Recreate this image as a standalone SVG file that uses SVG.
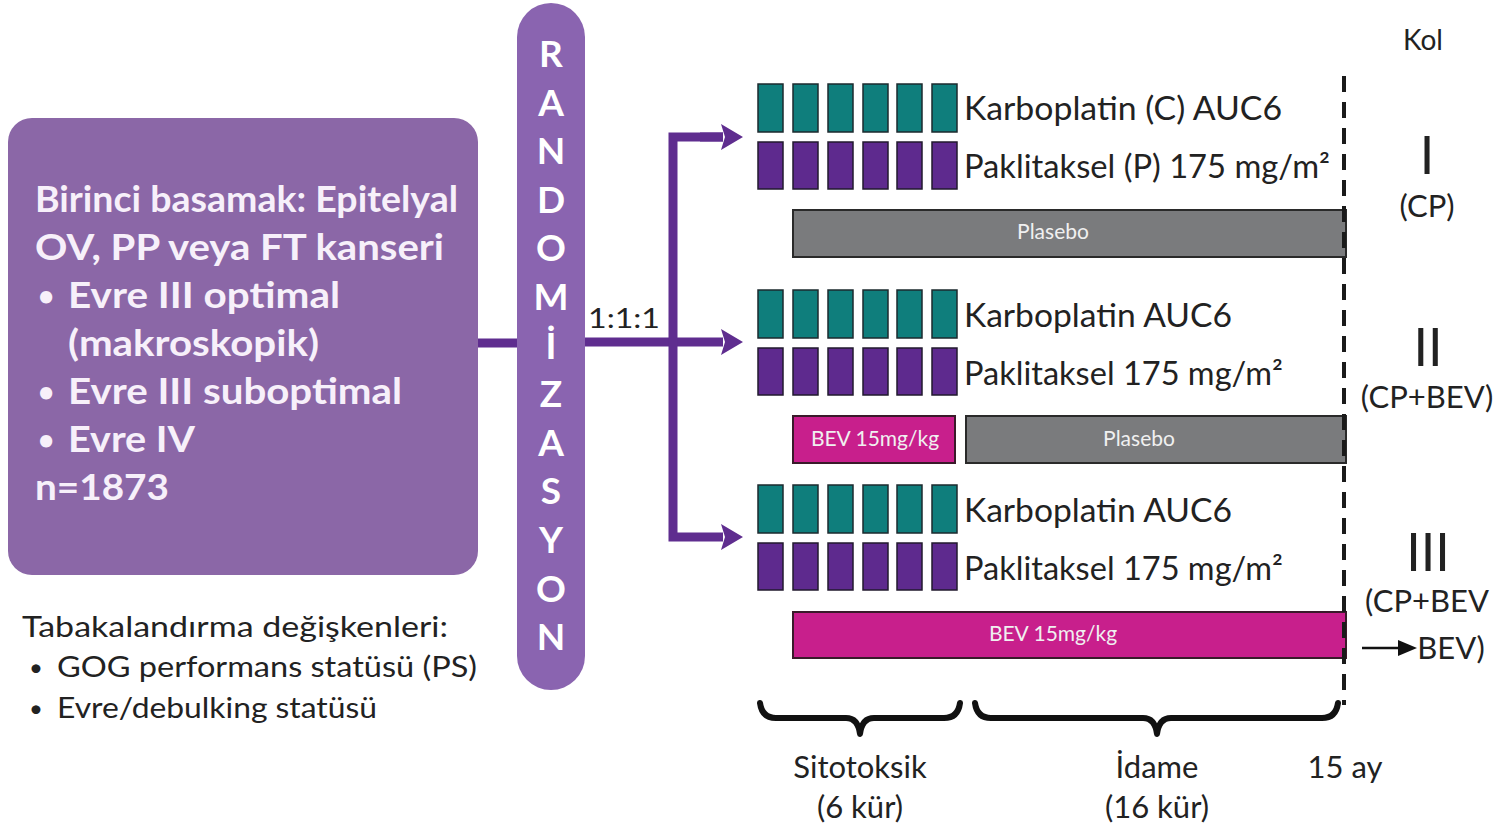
<svg xmlns="http://www.w3.org/2000/svg" width="1498" height="828" viewBox="0 0 1498 828">
<style>
.bx{fill:#f7f0fa;font-family:Lato,"Open Sans",sans-serif;font-weight:700;font-size:36px}
.bu{fill:#f7f0fa;font-family:Lato,"Open Sans",sans-serif;font-weight:700;font-size:28px}
.rl{fill:#ffffff;font-family:Lato,"Open Sans",sans-serif;font-weight:700;font-size:37px;text-anchor:middle}
.tx{fill:#222;font-family:Lato,"Open Sans",sans-serif;font-size:32px}
.sm{fill:#222;font-family:Lato,"Open Sans",sans-serif;font-size:29px}
.smb{fill:#222;font-family:Lato,"Open Sans",sans-serif;font-size:24px}
.bar{fill:#f0f0f0;font-family:Lato,"Open Sans",sans-serif;font-size:21px;text-anchor:middle}
.rn{fill:#222;font-family:Lato,"Open Sans",sans-serif;font-size:52px;text-anchor:middle}
.tl{fill:#222;font-family:Lato,"Open Sans",sans-serif;font-size:31px;text-anchor:middle}
.teal{fill:#0f7e7c;stroke:#1d2a2e;stroke-width:1.5}
.purp{fill:#5e2a8e;stroke:#221a2e;stroke-width:1.5}
.gray{fill:#7a7b7d;stroke:#2a2a2a;stroke-width:2}
.mag{fill:#c81f8c;stroke:#3a1a2a;stroke-width:2}
.con{fill:none;stroke:#5f2d8f;stroke-width:9}
.br{fill:none;stroke:#111;stroke-width:6;stroke-linecap:round;stroke-linejoin:round}
</style>
<defs>
<marker id="ah" markerUnits="userSpaceOnUse" viewBox="0 0 22 26" refX="2" refY="13" markerWidth="22" markerHeight="26" orient="auto">
<path d="M0 0 L22 13 L0 26 L4 13 z" fill="#5f2d8f"/>
</marker>
<g id="blk">
<rect class="teal" x="0" y="0" width="25" height="48"/>
<rect class="teal" x="35" y="0" width="25" height="48"/>
<rect class="teal" x="70" y="0" width="25" height="48"/>
<rect class="teal" x="105" y="0" width="25" height="48"/>
<rect class="teal" x="139" y="0" width="25" height="48"/>
<rect class="teal" x="174" y="0" width="25" height="48"/>
<rect class="purp" x="0" y="58" width="25" height="47"/>
<rect class="purp" x="35" y="58" width="25" height="47"/>
<rect class="purp" x="70" y="58" width="25" height="47"/>
<rect class="purp" x="105" y="58" width="25" height="47"/>
<rect class="purp" x="139" y="58" width="25" height="47"/>
<rect class="purp" x="174" y="58" width="25" height="47"/>
</g>
</defs>
<rect width="1498" height="828" fill="#ffffff"/>

<g id="connectors">
<path class="con" d="M476 343 H519"/>
<path class="con" d="M583 342 H723" marker-end="url(#ah)"/>
<path class="con" d="M723 137 H673 V537 H723" marker-end="url(#ah)"/>
<path class="con" d="M700 137 H723" marker-end="url(#ah)"/>
</g>

<g id="population">
<rect x="8" y="118" width="470" height="457" rx="24" fill="#8b67a7"/>
<text class="bx" x="35" y="212" textLength="423" lengthAdjust="spacingAndGlyphs">Birinci basamak: Epitelyal</text>
<text class="bx" x="35" y="260" textLength="409" lengthAdjust="spacingAndGlyphs">OV, PP veya FT kanseri</text>
<text class="bu" x="38" y="306">•</text>
<text class="bx" x="68" y="308" textLength="272" lengthAdjust="spacingAndGlyphs">Evre III optimal</text>
<text class="bx" x="68" y="356" textLength="251" lengthAdjust="spacingAndGlyphs">(makroskopik)</text>
<text class="bu" x="38" y="402">•</text>
<text class="bx" x="68" y="404" textLength="334" lengthAdjust="spacingAndGlyphs">Evre III suboptimal</text>
<text class="bu" x="38" y="450">•</text>
<text class="bx" x="68" y="452" textLength="127" lengthAdjust="spacingAndGlyphs">Evre IV</text>
<text class="bx" x="35" y="500" textLength="134" lengthAdjust="spacingAndGlyphs">n=1873</text>
</g>

<g id="strat">
<text class="sm" x="22" y="637" textLength="426" lengthAdjust="spacingAndGlyphs">Tabakalandırma değişkenleri:</text>
<text class="smb" x="29" y="676">•</text>
<text class="sm" x="57" y="677" textLength="420" lengthAdjust="spacingAndGlyphs">GOG performans statüsü (PS)</text>
<text class="smb" x="29" y="717">•</text>
<text class="sm" x="57" y="718" textLength="320" lengthAdjust="spacingAndGlyphs">Evre/debulking statüsü</text>
</g>

<g id="randomization">
<rect x="517" y="3" width="68" height="687" rx="34" fill="#8a64b0"/>
<text class="rl" x="551" y="67">R</text>
<text class="rl" x="551" y="115.6">A</text>
<text class="rl" x="551" y="164.2">N</text>
<text class="rl" x="551" y="212.8">D</text>
<text class="rl" x="551" y="261.4">O</text>
<text class="rl" x="551" y="310">M</text>
<text class="rl" x="551" y="358.6">İ</text>
<text class="rl" x="551" y="407.2">Z</text>
<text class="rl" x="551" y="455.8">A</text>
<text class="rl" x="551" y="504.4">S</text>
<text class="rl" x="551" y="553">Y</text>
<text class="rl" x="551" y="601.6">O</text>
<text class="rl" x="551" y="650.2">N</text>
</g>

<g id="ratio">
<text class="tx" x="588" y="328" style="font-size:26px" textLength="72" lengthAdjust="spacingAndGlyphs">1:1:1</text>
</g>

<g id="arm1">
<use href="#blk" x="758" y="84"/>
<text class="tx" x="964" y="120" textLength="318" lengthAdjust="spacingAndGlyphs">Karboplatin (C) AUC6</text>
<text class="tx" x="964" y="178" textLength="366" lengthAdjust="spacingAndGlyphs">Paklitaksel (P) 175 mg/m²</text>
<rect class="gray" x="793" y="210" width="553" height="47"/>
<text class="bar" x="1053" y="239">Plasebo</text>
</g>

<g id="arm2">
<use href="#blk" x="758" y="290"/>
<text class="tx" x="964" y="327" textLength="268" lengthAdjust="spacingAndGlyphs">Karboplatin AUC6</text>
<text class="tx" x="964" y="385" textLength="319" lengthAdjust="spacingAndGlyphs">Paklitaksel 175 mg/m²</text>
<rect class="mag" x="793" y="416" width="162" height="47"/>
<text class="bar" x="875" y="446">BEV 15mg/kg</text>
<rect class="gray" x="966" y="416" width="380" height="47"/>
<text class="bar" x="1139" y="446">Plasebo</text>
</g>

<g id="arm3">
<use href="#blk" x="758" y="485"/>
<text class="tx" x="964" y="522" textLength="268" lengthAdjust="spacingAndGlyphs">Karboplatin AUC6</text>
<text class="tx" x="964" y="580" textLength="319" lengthAdjust="spacingAndGlyphs">Paklitaksel 175 mg/m²</text>
<rect class="mag" x="793" y="612" width="553" height="46"/>
<text class="bar" x="1053" y="641">BEV 15mg/kg</text>
</g>

<g id="timeline">
<path d="M1344 76 V705" fill="none" stroke="#1a1a1a" stroke-width="4" stroke-dasharray="16 10"/>
<path class="br" d="M760 703 Q762 718 776 718 H846 Q858 718 860 734 Q862 718 874 718 H944 Q958 718 960 703"/>
<path class="br" d="M975 703 Q977 718 991 718 H1143 Q1155 718 1157 734 Q1159 718 1171 718 H1322 Q1336 718 1338 703"/>
<text class="tl" x="860" y="778">Sitotoksik</text>
<text class="tl" x="860" y="818">(6 kür)</text>
<text class="tl" x="1157" y="778">İdame</text>
<text class="tl" x="1157" y="818">(16 kür)</text>
<text class="tl" x="1345" y="778">15 ay</text>
</g>

<g id="arms-labels">
<text class="tl" x="1423" y="50" style="font-size:28px">Kol</text>
<text class="rn" x="1427" y="174">I</text>
<text class="tl" x="1427" y="217">(CP)</text>
<text class="rn" x="1428" y="366">II</text>
<text class="tl" x="1427" y="408">(CP+BEV)</text>
<text class="rn" x="1428" y="571">III</text>
<text class="tl" x="1427" y="612">(CP+BEV</text>
<path d="M1362 648 H1400" stroke="#111" stroke-width="2.5"/>
<path d="M1398 640 L1417 648 L1398 656 z" fill="#111"/>
<text class="tl" x="1451" y="659">BEV)</text>
</g>
</svg>
